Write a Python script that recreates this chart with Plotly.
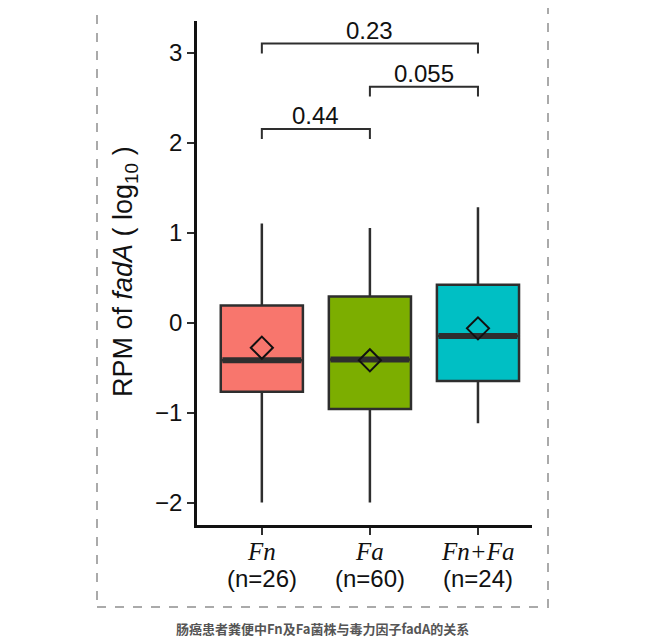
import plotly.graph_objects as go

# ---- data ----
categories = ["Fn", "Fa", "Fn+Fa"]
sample_n = [26, 60, 24]
upper_whisker = [1.10, 1.05, 1.28]
q3_values = [0.19, 0.29, 0.42]
median_values = [-0.42, -0.41, -0.15]
q1_values = [-0.77, -0.96, -0.65]
lower_whisker = [-2.0, -2.0, -1.12]
mean_values = [-0.28, -0.42, -0.065]
fill_colors = ["#F8766D", "#7CAE00", "#00BFC4"]

compare_pairs = [(0, 1), (1, 2), (0, 2)]
p_values = ["0.44", "0.055", "0.23"]
y_ticks = [-2, -1, 0, 1, 2, 3]

# ---- layout constants ----
box_w = 0.76
bracket_levels = [2.15, 2.62, 3.10]
leg_drop = 0.11
SANS = "Liberation Sans, Arial, sans-serif"
SERIF = "Liberation Serif, Times New Roman, serif"
DARK = "#2e2e2e"
PLOT_H = 504.0
PLOT_W = 335.0

fig = go.Figure()
positions = list(range(len(categories)))

for i, c in enumerate(categories):
    fig.add_trace(go.Box(
        x=[positions[i]],
        q1=[q1_values[i]], median=[median_values[i]], q3=[q3_values[i]],
        lowerfence=[lower_whisker[i]], upperfence=[upper_whisker[i]],
        width=box_w, whiskerwidth=0,
        fillcolor=fill_colors[i],
        line=dict(color=DARK, width=2.5),
        boxpoints=False, showlegend=False, hoverinfo="skip",
    ))
    # thick median
    fig.add_trace(go.Scatter(
        x=[positions[i] - box_w / 2 + 0.015, positions[i] + box_w / 2 - 0.015],
        y=[median_values[i], median_values[i]],
        mode="lines", line=dict(color=DARK, width=6),
        showlegend=False, hoverinfo="skip",
    ))

# mean diamonds
fig.add_trace(go.Scatter(
    x=positions, y=mean_values, mode="markers",
    marker=dict(symbol="diamond-open", size=17, color="#111111",
                line=dict(width=2, color="#111111")),
    showlegend=False, hoverinfo="skip",
))

# significance brackets
for (a, b), p, lvl in zip(compare_pairs, p_values, bracket_levels):
    fig.add_trace(go.Scatter(
        x=[positions[a], positions[a], positions[b], positions[b]],
        y=[lvl - leg_drop, lvl, lvl, lvl - leg_drop],
        mode="lines", line=dict(color=DARK, width=2),
        showlegend=False, hoverinfo="skip",
    ))
    fig.add_annotation(
        x=(positions[a] + positions[b]) / 2, y=lvl, xref="x", yref="y",
        text=p, showarrow=False, yanchor="bottom", yshift=-2,
        font=dict(family=SANS, size=24, color="#111111"),
    )

# x category labels (two lines, drawn as annotations for tight spacing)
for i, (c, n) in enumerate(zip(categories, sample_n)):
    fig.add_annotation(
        x=positions[i], y=-26 / PLOT_H, xref="x", yref="paper",
        text=f"<i>{c}</i>", showarrow=False, xanchor="center", yanchor="middle",
        font=dict(family=SERIF, size=25, color="#111111"),
    )
    fig.add_annotation(
        x=positions[i], y=-53 / PLOT_H, xref="x", yref="paper",
        text=f"(n={n})", showarrow=False, xanchor="center", yanchor="middle",
        font=dict(family=SANS, size=24, color="#111111"),
    )

fig.update_xaxes(
    range=[-0.6, 2.5], tickvals=positions, showticklabels=False,
    showline=True, linecolor="#111111", linewidth=2.5,
    ticks="outside", ticklen=7, tickwidth=2, tickcolor=DARK,
    showgrid=False, zeroline=False,
)
fig.update_yaxes(
    range=[-2.25, 3.35], tickvals=y_ticks,
    ticktext=[("\u2212" + str(abs(v))) if v < 0 else str(v) for v in y_ticks],
    showline=True, linecolor="#111111", linewidth=2.5,
    ticks="outside", ticklen=7, tickwidth=2, tickcolor=DARK,
    showgrid=False, zeroline=False,
    tickfont=dict(family=SANS, size=24, color="#111111"),
)

# y axis title as rotated annotation
fig.add_annotation(
    x=-72 / PLOT_W, y=(525 - 272) / PLOT_H, xref="paper", yref="paper",
    xanchor="center", yanchor="middle",
    text="RPM of <i>fadA</i> ( log<sub>10</sub> )", textangle=-90,
    showarrow=False, font=dict(family=SANS, size=27, color="#111111"),
)

# dashed frame
fig.add_shape(
    type="rect", xref="paper", yref="paper",
    x0=(97 - 197) / PLOT_W, x1=(548 - 197) / PLOT_W,
    y0=(525 - 607) / PLOT_H, y1=(525 - 6) / PLOT_H,
    line=dict(color="#aaaaaa", width=2, dash="dash"), layer="below",
)

# caption
fig.add_annotation(
    x=(322 - 197) / PLOT_W, y=(525 - 628) / PLOT_H, xref="paper", yref="paper",
    xanchor="center", yanchor="middle",
    text="<b>肠癌患者粪便中Fn及Fa菌株与毒力因子fadA的关系</b>",
    showarrow=False, font=dict(family="Noto Sans CJK SC", size=13, color="#555555"),
)

# page body has an 8px margin, so the figure is offset by 8px
fig.update_layout(
    width=647, height=634, autosize=False,
    margin=dict(l=189, r=123, t=13, b=117),
    plot_bgcolor="white", paper_bgcolor="white",
)

fig.write_html("out.html")
